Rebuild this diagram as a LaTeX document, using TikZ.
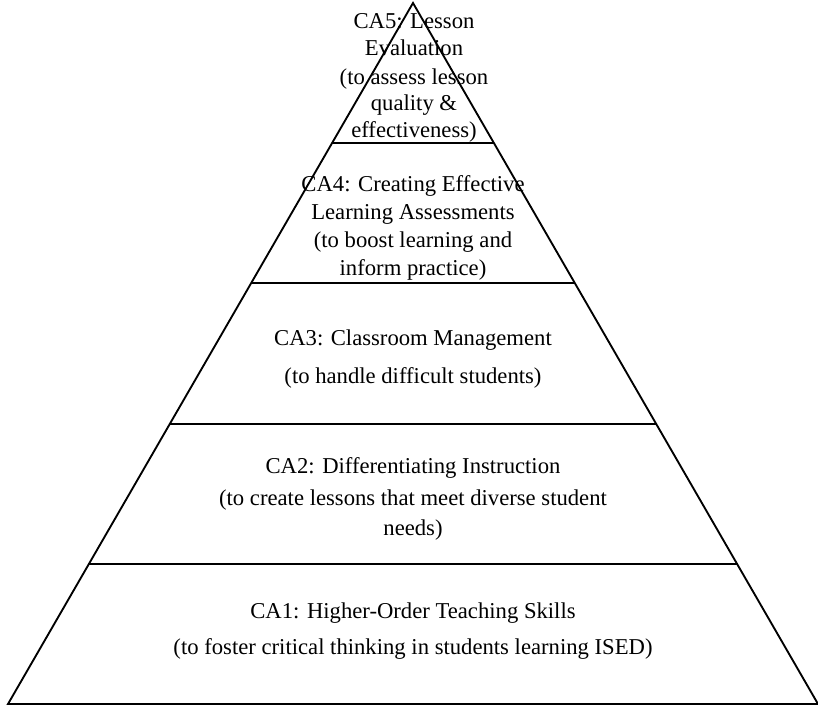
\documentclass[tikz,border=0pt]{standalone}
\usepackage{fontspec}
\setmainfont{Liberation Serif}
\usetikzlibrary{calc}
\tikzset{tier/.style={align=center,font=\fontsize{17}{21}\selectfont,inner sep=0pt}}

\begin{document}
\begin{tikzpicture}[x=0.75pt,y=-0.75pt]
  \useasboundingbox (0,0) rectangle (818,706);
  \coordinate (apex) at (413,3);
  \coordinate (bl) at (8,704);
  \coordinate (br) at (818,704);
  \draw[line width=1.4pt] (apex) -- (bl) -- (br) -- cycle; %Draw pyramid outline
  \foreach \t in {0.2,0.4,0.6,0.8}
    \draw[line width=1.4pt] ($(apex)!\t!(bl)$) -- ($(apex)!\t!(br)$); %Tier boundary

  \node[tier,font=\fontsize{17}{20}\selectfont] (ca5) at (414,78) {CA5: Lesson\\Evaluation\\[1.5pt](to assess lesson\\quality \&\\effectiveness)}; %Top tier
  \node[tier] (ca4) at (413,228) {CA4: Creating Effective\\Learning Assessments\\(to boost learning and\\inform practice)};
  \node[tier] (ca3) at (413,359) {CA3: Classroom Management\\[7pt](to handle difficult students)};
  \node[tier] (ca2) at (413,499) {CA2: Differentiating Instruction\\[3pt](to create lessons that meet diverse student\\[2pt]needs)};
  \node[tier] (ca1) at (413,631) {CA1: Higher-Order Teaching Skills\\[6pt](to foster critical thinking in students learning ISED)}; %Bottom tier
\end{tikzpicture}
\end{document}
